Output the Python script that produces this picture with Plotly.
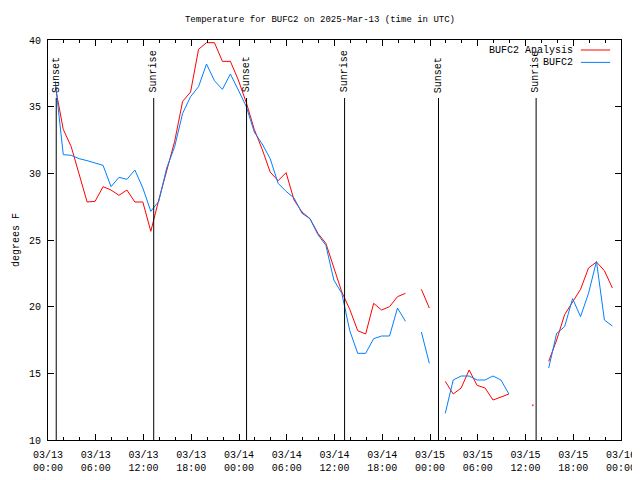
import plotly.graph_objects as go
import pandas as pd

# ---- data ----
start_time = "2025-03-13 00:55"
n_points = 71
analysis_temp = [
    36.5, 33.3, 32.0, 30.0, 27.85, 27.9, 29.0, 28.75, 28.35, 28.75,
    27.85, 27.85, 25.65, 28.0, 30.3, 32.4, 35.4, 36.1, 39.3, 39.8,
    39.8, 38.4, 38.4, 37.0, 35.3, 33.3, 31.8, 30.1, 29.45, 30.05,
    28.0, 27.1, 26.6, 25.5, 24.75, 23.0, 21.1, 19.8, 18.2, 17.95,
    20.25, 19.75, 20.0, 20.75, 21.0, None, 21.3, 19.9, None, 14.4,
    13.45, 13.9, 15.25, 14.1, 13.9, 13.0, 13.2, 13.45, None, None,
    12.6, None, 15.9, 17.5, 19.4, 20.3, 21.3, 22.9, 23.35, 22.7,
    21.4,
]
obs_temp = [
    36.9, 31.4, 31.35, 31.1, 30.95, 30.8, 30.6, 29.0, 29.7, 29.55,
    30.25, 28.9, 27.15, 27.9, 30.4, 32.0, 34.5, 35.75, 36.5, 38.2,
    36.95, 36.3, 37.45, 36.25, 35.0, 33.1, 32.2, 31.1, 29.25, 28.65,
    28.15, 27.0, 26.6, 25.4, 24.6, 22.0, 21.0, 18.2, 16.5, 16.5,
    17.6, 17.8, 17.8, 19.9, 18.9, None, 18.1, 15.75, None, 12.0,
    14.5, 14.8, 14.8, 14.5, 14.5, 14.8, 14.5, 13.45, None, None,
    None, None, 15.4, 18.0, 18.5, 20.6, 19.25, 21.0, 23.4, 19.0,
    18.55,
]
sun_events = ["Sunset", "Sunrise", "Sunset", "Sunrise", "Sunset", "Sunrise"]
sun_times = ["2025-03-13 01:02", "2025-03-13 13:17", "2025-03-14 00:57",
             "2025-03-14 13:16", "2025-03-15 01:04", "2025-03-15 13:20"]
series_names = ["BUFC2 Analysis", "BUFC2"]
series_colors = ["#ff0000", "#0080ff"]
x_range = ["2025-03-13 00:00", "2025-03-16 00:00"]
y_range = [10, 40]
y_ticks = [10, 15, 20, 25, 30, 35, 40]

times = pd.date_range(start_time, periods=n_points, freq="h")
FONT = "Liberation Mono"

# page has an 8px body margin: figure is 632x472 so it fills 640x480 window
W, H = 632, 472
ML, MT, MR, MB = 40, 32, 19, 40
PW = W - ML - MR


def iso_sizes(vals):
    out = []
    for i, v in enumerate(vals):
        prev_none = i == 0 or vals[i - 1] is None
        next_none = i == len(vals) - 1 or vals[i + 1] is None
        out.append(2 if (v is not None and prev_none and next_none) else 0)
    return out


fig = go.Figure()
for name, vals, col in zip(series_names, [analysis_temp, obs_temp], series_colors):
    fig.add_trace(go.Scatter(
        x=times, y=vals, name=name, mode="lines+markers",
        line=dict(color=col, width=1),
        marker=dict(color=col, size=iso_sizes(vals), line=dict(width=0)),
        connectgaps=False, showlegend=False,
    ))

shapes = []
annotations = []
for ev, t in zip(sun_events, sun_times):
    shapes.append(dict(type="line", xref="x", yref="y", x0=t, x1=t,
                       y0=y_range[0], y1=35.65, line=dict(color="black", width=1)))
    annotations.append(dict(x=t, y=35.9, xref="x", yref="y", text=ev,
                            textangle=-90, showarrow=False, xanchor="center",
                            yanchor="bottom", font=dict(family=FONT, size=10, color="black")))

# legend (gnuplot style: text right-aligned, sample to the right)
leg_y = [0.975, 0.944]
for name, col, ly in zip(series_names, series_colors, leg_y):
    annotations.append(dict(x=0.9197, y=ly, xref="paper", yref="paper", text=name,
                            showarrow=False, xanchor="right", yanchor="middle",
                            font=dict(family=FONT, size=10, color="black")))
    shapes.append(dict(type="line", xref="paper", yref="paper", x0=0.930, x1=0.981,
                       y0=ly, y1=ly, line=dict(color=col, width=1)))

# y axis title (kept fully inside the figure)
annotations.append(dict(x=(8 - ML) / PW, y=0.5, xref="paper", yref="paper", text="degrees F",
                        textangle=-90, showarrow=False, xanchor="center", yanchor="middle",
                        font=dict(family=FONT, size=10, color="black")))

fig.update_layout(
    width=W, height=H,
    margin=dict(l=ML, r=MR, t=MT, b=MB, autoexpand=False),
    paper_bgcolor="white", plot_bgcolor="white",
    font=dict(family=FONT, size=10, color="black"),
    title=dict(text="Temperature for BUFC2 on 2025-Mar-13 (time in UTC)",
               x=(320 - 8) / W, xref="container", y=1 - 11 / H, yref="container",
               xanchor="center", yanchor="middle",
               font=dict(family=FONT, size=9, color="black")),
    shapes=shapes, annotations=annotations,
)
fig.update_xaxes(
    range=x_range, type="date", showgrid=False, zeroline=False, automargin=False,
    showline=True, linecolor="black", linewidth=1, mirror="ticks",
    ticks="inside", ticklen=6, tickcolor="black",
    dtick=6 * 3600 * 1000, tick0="2025-03-13 00:00",
    tickformat="%m/%d<br>%H:%M", ticklabelstandoff=5,
    minor=dict(ticks="inside", ticklen=3, dtick=2 * 3600 * 1000, tickcolor="black", showgrid=False),
    tickfont=dict(family=FONT, size=10),
)
fig.update_yaxes(
    range=y_range, tickvals=y_ticks, showgrid=False, zeroline=False, automargin=False,
    showline=True, linecolor="black", linewidth=1, mirror="ticks",
    ticks="inside", ticklen=6, tickcolor="black",
    tickfont=dict(family=FONT, size=10), ticklabelstandoff=4,
)

fig.write_html("out.html")
